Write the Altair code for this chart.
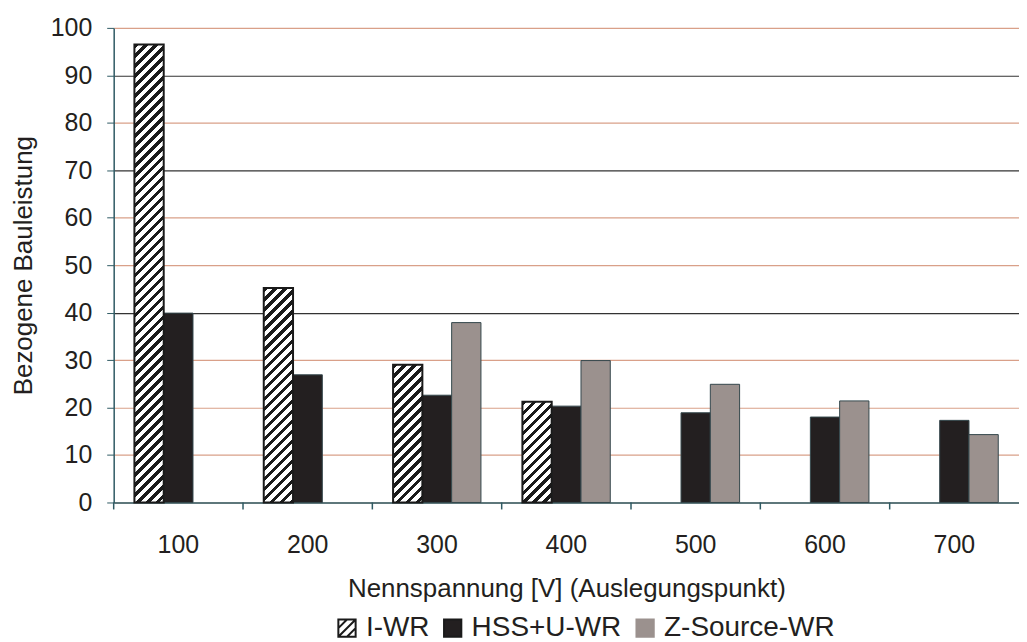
import altair as alt
import pandas as pd

# ---- data ----
voltages = ["100", "200", "300", "400", "500", "600", "700"]
series = ["I-WR", "HSS+U-WR", "Z-Source-WR"]
i_wr = [96.5, 45.2, 29.0, 21.2, None, None, None]
hss_u_wr = [39.9, 26.9, 22.6, 20.3, 18.9, 18.0, 17.3]
z_source_wr = [None, None, 37.9, 29.9, 24.9, 21.4, 14.3]
y_ticks = [0, 10, 20, 30, 40, 50, 60, 70, 80, 90, 100]
dark_grid = [40, 70, 90]

rows = []
for name, vals in zip(series, [i_wr, hss_u_wr, z_source_wr]):
    for v, val in zip(voltages, vals):
        if val is not None:
            rows.append({"Spannung": v, "Reihe": name, "Wert": val})
df = pd.DataFrame(rows)
ticks_df = pd.DataFrame({"Spannung": voltages})

# ---- layout / style ----
W, H = 908, 476
FONT = "Liberation Sans"
AXIS = "#2f5a63"
TEXT = "#231f20"
PO = 0.708
step = W / len(voltages)
bar_w = step / (3 + 2 * PO)
fills = ["white", "#231f20", "#9b918e"]
strokes = ["#1a1a1a", "#1a1a1a", "#9b918e"]
legend_path = "M-1,-1H1V1H-1Z M-1,0L0,-1 M-1,1L1,-1 M0,1L1,0"
shapes = [legend_path, "square", "square"]


def hatch(value):
    """Diagonal '/' hatch built as a hard-stop linear gradient for a bar."""
    h = value / 100.0 * H
    w = bar_w
    total = w + h
    k = total / (w * w + h * h)
    period = 10.0
    dark = 0.45
    stops = []
    s = 0.0
    while s < total:
        a = s / total
        b = min((s + dark * period) / total, 1.0)
        stops += [
            {"offset": a, "color": "white"},
            {"offset": a, "color": "#1a1a1a"},
            {"offset": b, "color": "#1a1a1a"},
            {"offset": b, "color": "white"},
        ]
        s += period
    return {"gradient": "linear", "x1": 0, "y1": 0, "x2": k * w, "y2": k * h, "stops": stops}


grid_test = " || ".join(f"datum.value == {g}" for g in dark_grid)
X_TITLE = "Nennspannung [V] (Auslegungspunkt)"

x_enc = alt.X(
    "Spannung:N",
    sort=voltages,
    scale=alt.Scale(paddingInner=0, paddingOuter=0),
    axis=alt.Axis(
        title=X_TITLE,
        labelAngle=0,
        ticks=False,
        labelPadding=30,
        titlePadding=18,
        domainColor=AXIS,
        domainWidth=1.5,
        grid=False,
    ),
)
xoff_enc = alt.XOffset(
    "Reihe:N", sort=series,
    scale=alt.Scale(domain=series, paddingInner=0, paddingOuter=PO),
)
y_enc = alt.Y(
    "Wert:Q",
    scale=alt.Scale(domain=[0, 100], nice=False),
    axis=alt.Axis(
        title="Bezogene Bauleistung",
        values=y_ticks,
        tickSize=7,
        tickColor=AXIS,
        labelPadding=15,
        titlePadding=14,
        domainColor=AXIS,
        domainWidth=1.5,
        grid=True,
        gridColor={"condition": {"test": grid_test, "value": "#333333"}, "value": "#d9a089"},
        gridWidth=1.2,
    ),
)

leg = alt.Legend(
    title=None,
    orient="none",
    legendX=220,
    legendY=588,
    direction="horizontal",
    symbolSize=300,
    symbolStrokeWidth=2,
    symbolOpacity=1,
    labelFontSize=28,
    labelOffset=5,
    labelLimit=400,
    columnPadding=9,
)
color_enc = alt.Color("Reihe:N", sort=series, scale=alt.Scale(domain=series, range=fills), legend=leg)

main = (
    alt.Chart(df)
    .transform_filter("datum.Reihe != 'I-WR'")
    .mark_bar(stroke="#34474c", strokeWidth=1)
    .encode(x=x_enc, xOffset=xoff_enc, y=y_enc, color=color_enc)
)

legend_layer = (
    alt.Chart(df)
    .mark_point(filled=True, opacity=0)
    .encode(
        x=x_enc,
        xOffset=xoff_enc,
        y=y_enc,
        color=color_enc,
        shape=alt.Shape("Reihe:N", sort=series, scale=alt.Scale(domain=series, range=shapes), legend=leg),
        stroke=alt.Stroke("Reihe:N", sort=series, scale=alt.Scale(domain=series, range=strokes), legend=leg),
    )
)

layers = [main]
for v, val in zip(voltages, i_wr):
    if val is None:
        continue
    layers.append(
        alt.Chart(df)
        .transform_filter(f"datum.Reihe == 'I-WR' && datum.Spannung == '{v}'")
        .mark_bar(fill=hatch(val), stroke="#1a1a1a", strokeWidth=2)
        .encode(x=x_enc, xOffset=xoff_enc, y=y_enc)
    )

tick_layer = (
    alt.Chart(ticks_df)
    .mark_rule(color=AXIS, strokeWidth=1.5)
    .encode(
        x=alt.X("Spannung:N", sort=voltages, bandPosition=0, title=X_TITLE),
        y=alt.value(H),
        y2=alt.value(H + 7),
    )
)
layers.append(tick_layer)
layers.append(legend_layer)

chart = (
    alt.layer(*layers)
    .properties(width=W, height=H, padding={"left": 2, "top": 7, "right": 0, "bottom": 0})
    .configure(font=FONT)
    .configure_view(stroke=None)
    .configure_axis(
        labelFont=FONT, titleFont=FONT,
        labelFontSize=25, titleFontSize=26,
        labelColor=TEXT, titleColor=TEXT,
        titleFontWeight="normal",
    )
    .configure_legend(labelFont=FONT, labelColor=TEXT)
)

chart.save("out.html", embed_options={"renderer": "svg", "actions": False})
